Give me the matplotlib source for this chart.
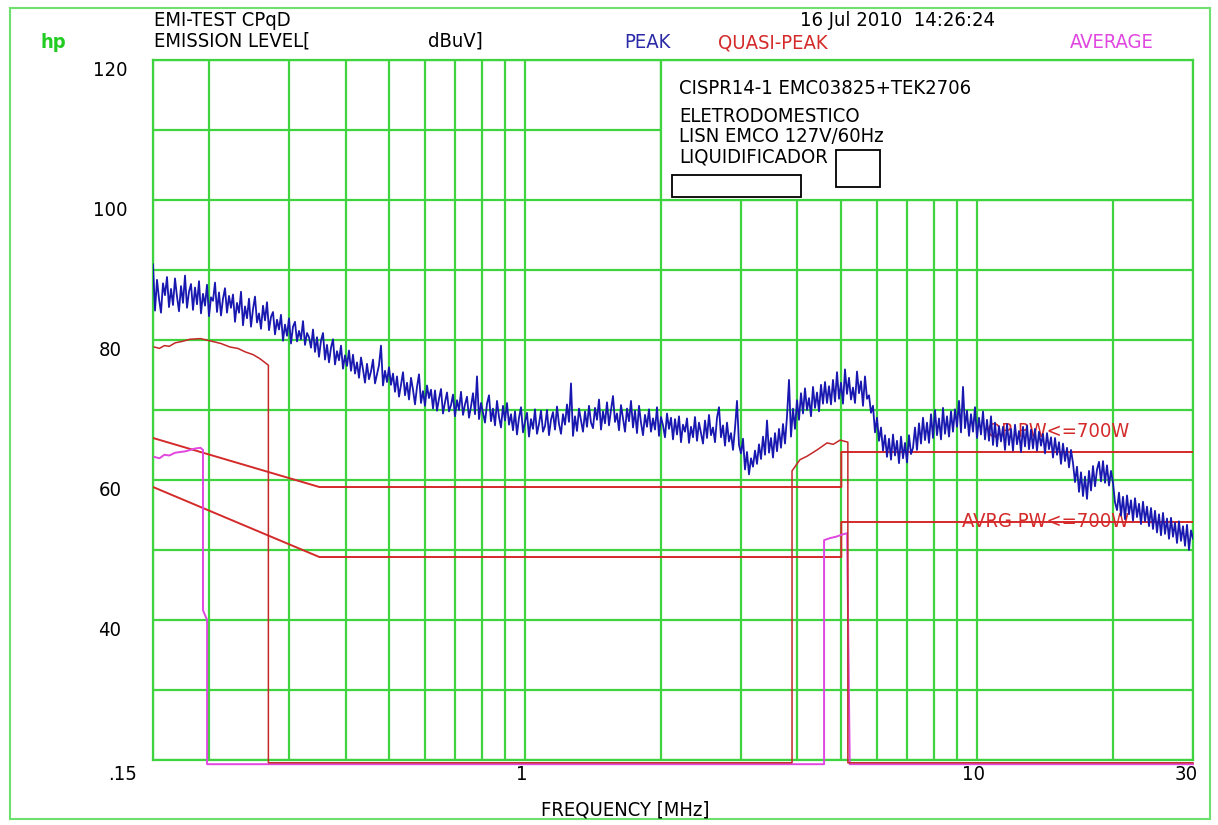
import numpy as np
import matplotlib
matplotlib.use('Agg')
import matplotlib.pyplot as plt
from matplotlib.patches import Rectangle
from matplotlib.transforms import offset_copy, blended_transform_factory

W, H = 1218, 825
plt.rcParams['font.family'] = ['DejaVu Sans']
plt.rcParams['font.stretch'] = 'condensed'

GREEN = '#3fd43f'
BLUE = '#1818b0'
RED = '#d42a2a'
MAGENTA = '#e046e0'

# PEAK sweep, log-spaced 0.15 .. 30 MHz
peak_db = [
    90.8, 84.2, 88.6, 85.9, 83.9, 88.1, 86.4, 89.0, 84.7, 87.3, 85.0, 88.8, 86.2, 84.1, 87.7, 85.3, 89.2, 84.6, 86.9, 88.0,
    84.3, 87.5, 85.1, 88.4, 83.8, 86.6, 84.9, 87.9, 83.4, 86.1, 85.6, 88.2, 84.0, 86.8, 83.5, 85.9, 87.4, 83.9, 86.3, 84.6,
    86.5, 82.6, 85.3, 83.9, 86.9, 82.1, 84.8, 83.1, 85.9, 81.9, 84.4, 86.2, 82.5, 83.8, 81.6, 84.9, 82.8, 85.4, 81.4, 83.3,
    84.0, 80.8, 82.9, 81.5, 83.6, 79.9, 82.2, 80.6, 83.1, 79.5, 81.9, 82.6, 79.8, 81.3, 80.1, 82.7, 79.3, 81.0, 80.4, 78.9,
    81.5, 78.3, 80.4, 77.6, 79.9, 81.0, 77.2, 79.3, 76.8, 78.9, 80.1, 76.5, 78.4, 77.1, 79.2, 75.9, 77.8, 76.3, 78.5, 75.6,
    77.9, 75.2, 76.8, 74.6, 77.5, 75.8, 73.9, 76.6, 74.4, 75.5, 77.2, 73.8, 75.1, 76.4, 79.2, 73.5, 75.6, 74.0, 76.1, 73.6,
    75.2, 72.6, 74.8, 71.9, 73.6, 75.4, 72.1, 73.9, 71.5, 74.6, 72.9, 70.8, 73.3, 75.1, 71.0, 72.7, 70.6, 73.5, 71.7, 72.9,
    70.2, 72.8, 69.9, 71.6, 73.0, 69.5, 71.1, 72.5, 69.8, 70.7, 72.2, 69.1, 71.4, 70.0, 72.6, 69.3, 70.8, 71.9, 68.9, 70.5,
    72.4, 69.4, 74.8, 68.7, 71.0, 69.6, 68.2, 70.9, 72.1, 68.4, 70.2, 67.8, 71.3, 69.0, 67.5, 70.6, 68.5, 71.0, 67.9, 69.4,
    67.1, 69.8, 66.5, 68.9, 70.4, 66.8, 68.3, 69.6, 66.2, 68.7, 67.3, 70.1, 66.6, 68.0, 69.9, 66.9, 67.7, 70.0, 66.4, 68.6,
    69.7, 67.2, 70.5, 68.0, 66.6, 69.4, 67.9, 70.8, 68.3, 73.8, 66.3, 69.1, 67.0, 70.2, 68.5, 66.9, 69.8, 67.6, 70.6, 68.2,
    67.4, 70.3, 68.6, 71.5, 67.2, 69.8, 68.1, 71.1, 67.8, 70.0, 72.0, 68.3, 69.5, 67.1, 70.7, 68.8, 66.9, 70.2, 68.4, 71.3,
    67.5, 69.9, 66.7, 70.6, 68.2, 66.4, 69.3, 67.6, 70.1, 66.9, 68.8, 67.2, 70.4, 66.3, 69.0, 67.8, 66.1, 69.5, 67.3, 68.9,
    65.8, 68.7, 66.5, 69.1, 65.4, 67.9, 66.9, 68.8, 65.3, 67.6, 66.1, 69.0, 65.6, 68.2, 66.7, 65.2, 68.5, 66.0, 69.3, 66.4,
    67.5, 65.4, 68.9, 70.4, 66.1, 67.8, 64.9, 68.2, 65.5, 66.7, 64.3, 67.4, 71.3, 65.0, 63.8, 65.9, 61.5, 64.0, 60.8, 63.1,
    61.9, 64.2, 62.3, 65.1, 63.0, 66.2, 63.6, 68.5, 63.9, 66.0, 63.2, 66.7, 64.1, 67.3, 64.6, 68.0, 65.2, 69.1, 74.3, 66.2,
    70.2, 67.3, 71.4, 68.6, 72.4, 69.5, 73.1, 70.0, 71.7, 69.1, 73.3, 70.3, 72.5, 69.8, 73.6, 70.9, 74.0, 71.0, 73.4, 70.8,
    74.3, 71.2, 75.4, 71.6, 73.9, 70.9, 75.8, 72.3, 74.6, 71.5, 73.2, 71.0, 75.5, 72.4, 74.1, 70.6, 74.8, 71.6, 72.1, 69.6,
    70.6, 66.8, 68.9, 65.6, 67.5, 64.2, 66.4, 63.3, 65.9, 62.9, 66.5, 63.5, 65.6, 62.4, 66.2, 63.1, 65.3, 62.5, 66.4, 63.7,
    64.6, 67.5, 64.3, 68.1, 65.2, 68.9, 65.7, 68.2, 65.3, 69.4, 66.0, 70.0, 66.4, 68.8, 65.8, 70.3, 66.6, 69.1, 66.2, 69.8,
    66.9, 70.1, 67.6, 71.3, 66.8, 73.3, 67.4, 69.9, 66.3, 69.4, 66.9, 70.4, 66.0, 68.9, 66.5, 69.8, 65.8, 68.6, 65.6, 69.1,
    65.0, 68.2, 64.8, 67.7, 65.5, 67.6, 64.3, 68.0, 65.0, 67.3, 64.2, 67.9, 65.1, 67.0, 64.0, 67.6, 64.8, 67.8, 64.4, 67.2,
    64.5, 67.3, 64.2, 66.9, 64.9, 66.6, 63.8, 66.7, 64.4, 66.1, 63.2, 66.0, 63.6, 65.4, 62.3, 65.2, 62.7, 64.6, 61.8, 64.3,
    62.4, 59.7, 61.9, 58.3, 61.1, 57.7, 60.5, 57.3, 61.3, 58.5, 62.0, 59.1, 61.5, 62.6, 59.8, 62.7, 59.6, 62.1, 59.2, 61.3,
    59.6, 56.8, 55.7, 58.2, 54.9, 57.6, 54.4, 57.8, 55.1, 57.1, 54.2, 57.4, 54.7, 56.6, 53.7, 56.9, 54.1, 56.2, 53.4, 56.0,
    53.0, 55.6, 52.5, 55.1, 52.1, 55.3, 52.3, 54.5, 51.6, 54.6, 51.9, 53.9, 51.0, 54.1, 51.3, 53.4, 50.6, 53.6, 50.0, 52.8,
    51.6,
]
peak_f = np.geomspace(0.15, 30, len(peak_db))

# QUASI-PEAK measurement
qp_f = [0.151, 0.155, 0.159, 0.163, 0.168, 0.174, 0.181, 0.191, 0.203, 0.212, 0.222, 0.231,
        0.240, 0.250, 0.259, 0.270, 0.270, 3.89, 3.89, 4.05, 4.20, 4.42, 4.65, 4.80, 4.97,
        5.17, 5.17, 30]
qp_db = [79.0, 78.8, 79.2, 79.1, 79.6, 79.8, 80.1, 80.2, 79.8, 79.5, 79.0, 78.8,
         78.3, 77.9, 77.3, 76.4, 19.6, 19.6, 61.3, 62.9, 63.4, 64.3, 65.3, 65.1, 65.7,
         65.4, 19.6, 19.6]

# AVERAGE measurement
avg_f = [0.151, 0.155, 0.159, 0.163, 0.168, 0.177, 0.186, 0.191, 0.1935, 0.1935, 0.1976,
         0.1976, 4.58, 4.58, 4.72, 4.87, 5.02, 5.15, 5.22, 30]
avg_db = [63.3, 63.1, 63.6, 63.5, 63.9, 64.1, 64.5, 64.6, 64.3, 41.4, 40.0,
          19.4, 19.4, 51.4, 51.7, 51.9, 52.2, 52.4, 19.4, 19.4]

# limit lines
qp_lim_f = [0.15, 0.35, 5, 5, 30]
qp_lim_db = [66, 59, 59, 64, 64]
av_lim_f = [0.15, 0.35, 5, 5, 30]
av_lim_db = [59, 49, 49, 54, 54]

grid_f = [0.15, 0.2, 0.3, 0.4, 0.5, 0.6, 0.7, 0.8, 0.9, 1, 2, 3, 4, 5, 6, 7, 8, 9, 10, 20, 30]
grid_db = list(range(20, 121, 10))
ytick_vals = [120, 100, 80, 60, 40]
xtick_vals = [0.15, 1, 10, 30]
xtick_labels = ['.15', '1', '10', '30']
xtick_dx = [-31, -4, -4, -7]


def fx(x):
    return x / W


def fy(y):
    return 1 - y / H


fig = plt.figure(figsize=(W / 100, H / 100), dpi=100)
ax = fig.add_axes([fx(153), fy(760), 1040 / W, 700 / H])
ax.set_xscale('log')
ax.set_xlim(0.15, 30)
ax.set_ylim(20, 120)
ax.set_xticks([]); ax.set_yticks([])
ax.minorticks_off()
for s in ax.spines.values():
    s.set_color(GREEN); s.set_linewidth(1.6)

ax.vlines(grid_f, 20, 120, color=GREEN, lw=1.6, zorder=1)
ax.hlines(grid_db, 0.15, 30, color=GREEN, lw=1.6, zorder=1)
ax.add_patch(Rectangle((2, 100), 28, 20, facecolor='white', edgecolor=GREEN, lw=1.6, zorder=2))

ax.plot(qp_lim_f, qp_lim_db, color=RED, lw=1.4, zorder=3)
ax.plot(av_lim_f, av_lim_db, color=RED, lw=1.4, zorder=3)
ax.text(10.5, 67.0, 'QP PW<=700W', color=RED, fontsize=14.5, ha='left', va='center', zorder=3)
ax.text(9.24, 54.1, 'AVRG PW<=700W', color=RED, fontsize=14.5, ha='left', va='center', zorder=3)

ax.plot(avg_f, avg_db, color=MAGENTA, lw=1.4, zorder=4, clip_on=False)
ax.plot(qp_f, qp_db, color='#c42828', lw=1.1, zorder=5, clip_on=False)
ax.plot(peak_f, peak_db, color=BLUE, lw=1.3, zorder=6)

ty = offset_copy(blended_transform_factory(ax.transAxes, ax.transData), fig, y=-10, units='dots')
for v in ytick_vals:
    ax.text((110 - 153) / 1040, v, str(v), transform=ty, ha='center', va='center', fontsize=14.5)
for f, lab, dx in zip(xtick_vals, xtick_labels, xtick_dx):
    tx = offset_copy(blended_transform_factory(ax.transData, ax.transAxes), fig, x=dx, y=-15, units='dots')
    ax.text(f, 0, lab, transform=tx, ha='center', va='center', fontsize=14.5)

hdr = dict(fontsize=14.5, va='center', ha='left')
fig.text(fx(40), fy(42), 'hp', color='#22cc22', fontweight='bold', **hdr)
fig.text(fx(154), fy(20), 'EMI-TEST CPqD', **hdr)
fig.text(fx(154), fy(41), 'EMISSION LEVEL[', **hdr)
fig.text(fx(428), fy(41), 'dBuV]', **hdr)
fig.text(fx(800), fy(20), '16 Jul 2010  14:26:24', **hdr)
fig.text(fx(624), fy(43), 'PEAK', color='#2a2aa8', **hdr)
fig.text(fx(718), fy(43), 'QUASI-PEAK', color=RED, **hdr)
fig.text(fx(1070), fy(43), 'AVERAGE', color=MAGENTA, **hdr)
fig.text(fx(679), fy(88), 'CISPR14-1 EMC03825+TEK2706', **hdr)
fig.text(fx(679), fy(117), 'ELETRODOMESTICO', **hdr)
fig.text(fx(679), fy(137), 'LISN EMCO 127V/60Hz', **hdr)
fig.text(fx(679), fy(157), 'LIQUIDIFICADOR', **hdr)
fig.text(fx(541), fy(810), 'FREQUENCY [MHz]', **hdr)

for (x0, y0, x1, y1) in [(836, 150, 880, 187), (672, 175, 801, 197)]:
    fig.add_artist(Rectangle((fx(x0), fy(y1)), (x1 - x0) / W, (y1 - y0) / H,
                             transform=fig.transFigure, facecolor='white', edgecolor='black', lw=1.3, zorder=7))
fig.add_artist(Rectangle((fx(10), fy(819)), 1200 / W, 811 / H, transform=fig.transFigure,
                         facecolor='none', edgecolor='#6ee06e', lw=1.5))

fig.savefig('out.png', dpi=100)
